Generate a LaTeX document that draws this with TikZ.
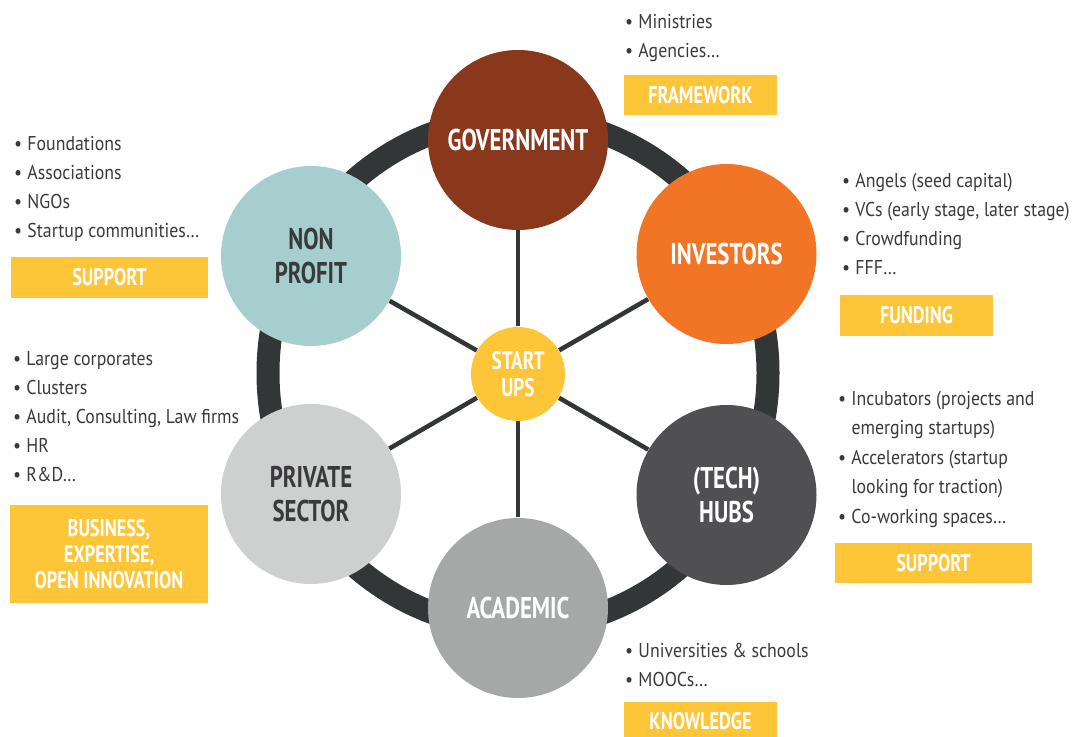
\documentclass[tikz,border=0pt]{standalone}
\usepackage{fontspec}
\setmainfont{PT Sans}[FakeStretch=0.89,BoldFeatures={FakeStretch=0.76}]
\usetikzlibrary{positioning}

\definecolor{ringgray}{RGB}{51,54,55}
\definecolor{textdark}{RGB}{58,58,60}
\definecolor{govred}{RGB}{138,56,27}
\definecolor{invorange}{RGB}{242,117,38}
\definecolor{npblue}{RGB}{166,206,207}
\definecolor{privgray}{RGB}{206,207,207}
\definecolor{acadgray}{RGB}{166,168,168}
\definecolor{hubgray}{RGB}{80,80,82}
\definecolor{tagyellow}{RGB}{253,197,56}

\newcommand{\itm}{\llap{\textbullet\hspace{4pt}}}

\tikzset{every picture/.style={line width=0.75pt}}
\tikzset{
  actor/.style={circle, fill=#1, minimum size=135pt, inner sep=0pt, align=center,
    font=\fontsize{22.5}{25}\selectfont\bfseries},
  core/.style={circle, fill=tagyellow, text=white, minimum size=70.5pt, inner sep=0pt, align=center,
    font=\fontsize{19}{20}\selectfont\bfseries},
  spoke/.style={draw=ringgray, line width=3.4pt},
  ring/.style={draw=ringgray, line width=17.25pt},
  tag/.style={fill=tagyellow, text=white, inner sep=0pt, align=center,
    font=\fontsize{18}{19.5}\selectfont\bfseries},
  itemlist/.style={anchor=base west, inner sep=0pt, text=textdark,
    font=\fontsize{15}{18}\selectfont},
}

\begin{document}
\begin{tikzpicture}[x=0.75pt,y=0.75pt,yscale=-1,xscale=1]
\useasboundingbox (0,0) rectangle (1078,737);

%Shape: Ring
\draw [ring] (518,373) ellipse [x radius=187.5pt, y radius=191.25pt];

%Flowchart: Connector (actors)
\node [actor=govred, text=white] (gov) at (518,140) {GOVERNMENT};
\node [actor=invorange, text=white] (inv) at (726.5,254) {INVESTORS};
\node [actor=hubgray, text=white] (hubs) at (726.5,495) {(TECH)\\HUBS};
\node [actor=acadgray, text=white] (acad) at (518,608) {ACADEMIC};
\node [actor=privgray, text=textdark] (priv) at (311,494) {PRIVATE\\SECTOR};
\node [actor=npblue, text=textdark] (np) at (311,256) {NON\\PROFIT};
%Flowchart: Connector (centre)
\node [core] (start) at (518,374) {START\\UPS};

%Straight Lines (spokes)
\foreach \n in {gov,inv,hubs,acad,priv,np}
  \draw [spoke] (start) -- (\n);

%Flowchart: Process (tags)
\node [tag, minimum width=114.75pt, minimum height=30pt] (framework) at (700.5,95) {FRAMEWORK};
\node [tag, minimum width=114.75pt, minimum height=30.75pt] (funding) at (916.5,315.5) {FUNDING};
\node [tag, minimum width=147.75pt, minimum height=30pt] (hubsupport) at (933.5,563) {SUPPORT};
\node [tag, minimum width=114.75pt, minimum height=28.5pt] (knowledge) at (700.5,721) {KNOWLEDGE};
\node [tag, minimum width=148.5pt, minimum height=73.5pt] (business) at (109,554) {BUSINESS,\\EXPERTISE,\\OPEN INNOVATION};
\node [tag, minimum width=147.75pt, minimum height=30.75pt] (npsupport) at (109.5,277.5) {SUPPORT};

% Text Node (lists)
\foreach \txt [count=\i] in {\itm Ministries, \itm Agencies\ldots}
  \node [itemlist] (govitem\i) at (638,29*\i) {\txt};
\foreach \txt [count=\i] in {\itm Angels (seed capital), {\itm VCs (early stage, later stage)}, \itm Crowdfunding, \itm FFF\ldots}
  \node [itemlist] (invitem\i) at (855,159+29*\i) {\txt};
\foreach \txt [count=\i] in {\itm Incubators (projects and, emerging startups), \itm Accelerators (startup, looking for traction), \itm Co-working spaces\ldots}
  \node [itemlist] (hubitem\i) at (851,376+29.5*\i) {\txt};
\foreach \txt [count=\i] in {\itm Universities \& schools, \itm MOOCs\ldots}
  \node [itemlist] (acaditem\i) at (638,628+29*\i) {\txt};
\foreach \txt [count=\i] in {\itm Large corporates, \itm Clusters, {\itm Audit, Consulting, Law firms}, \itm HR, \itm R\&D\ldots}
  \node [itemlist] (privitem\i) at (26,337+29*\i) {\txt};
\foreach \txt [count=\i] in {\itm Foundations, \itm Associations, \itm NGOs, \itm Startup communities\ldots}
  \node [itemlist] (npitem\i) at (27,122+29*\i) {\txt};

\end{tikzpicture}
\end{document}
